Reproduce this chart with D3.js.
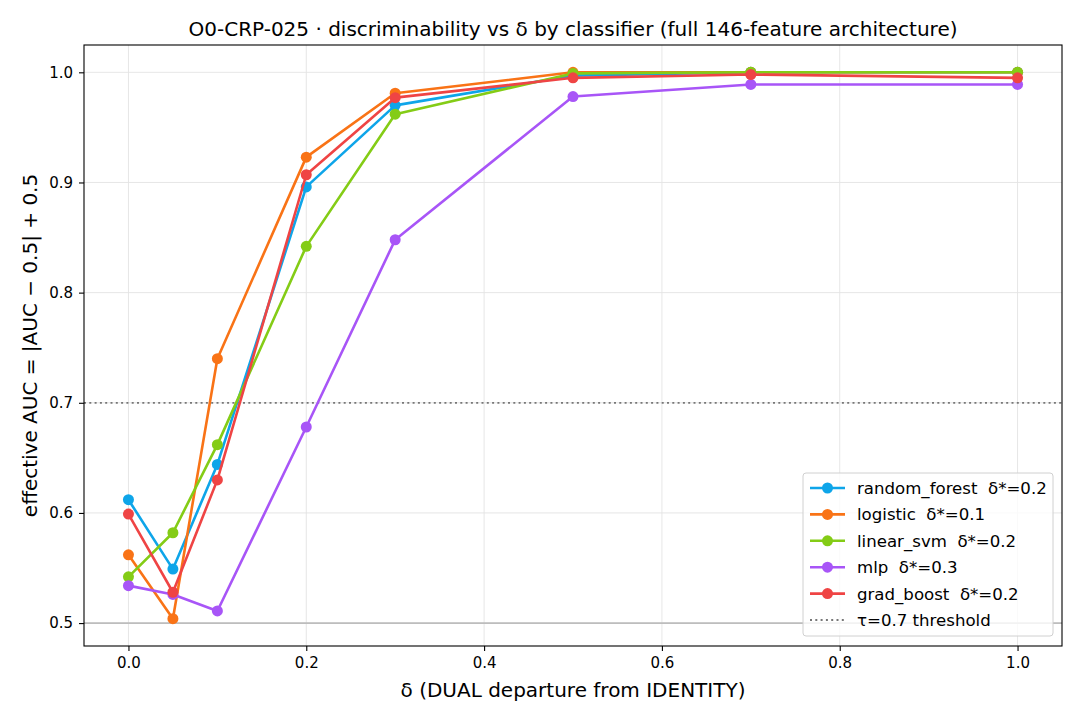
<!DOCTYPE html>
<html>
<head>
<meta charset="utf-8">
<script src="https://cdn.jsdelivr.net/npm/d3@7"></script>
<style>
  body { margin: 0; background: #fff; }
  text { font-family: "DejaVu Sans", sans-serif; }
</style>
</head>
<body>
<div id="chart"></div>
<script>
// deltas (x axis)
const deltas = [0, 0.05, 0.1, 0.2, 0.3, 0.5, 0.7, 1.0];

// effective AUC per classifier
const randomForest = [0.612, 0.549, 0.644, 0.896, 0.970, 0.997, 1.000, 1.000];
const logistic     = [0.562, 0.504, 0.740, 0.923, 0.981, 1.000, 1.000, 1.000];
const linearSvm    = [0.542, 0.582, 0.662, 0.842, 0.962, 0.999, 1.000, 1.000];
const mlp          = [0.534, 0.526, 0.511, 0.678, 0.848, 0.978, 0.989, 0.989];
const gradBoost    = [0.599, 0.528, 0.630, 0.907, 0.977, 0.995, 0.998, 0.995];

const seriesNames = ["random_forest  δ*=0.2", "logistic  δ*=0.1", "linear_svm  δ*=0.2", "mlp  δ*=0.3", "grad_boost  δ*=0.2"];
const seriesColors = ["#0ea5e9", "#f97316", "#84cc16", "#a855f7", "#ef4444"];
const seriesValues = [randomForest, logistic, linearSvm, mlp, gradBoost];

const xTicks = [0, 0.2, 0.4, 0.6, 0.8, 1.0];
const yTicks = [0.5, 0.6, 0.7, 0.8, 0.9, 1.0];
const threshold = 0.7;

const width = 1080, height = 720;
const margin = { left: 84, right: 18, top: 45, bottom: 74 };

const svg = d3.select("#chart").append("svg")
  .attr("width", width)
  .attr("height", height);

const x = d3.scaleLinear().domain([-0.05, 1.05]).range([margin.left, width - margin.right]);
const y = d3.scaleLinear().domain([0.4792, 1.0248]).range([height - margin.bottom, margin.top]);

// grid
const grid = svg.append("g");
grid.selectAll(".gx").data(xTicks).enter().append("line")
  .attr("x1", d => x(d)).attr("x2", d => x(d))
  .attr("y1", margin.top).attr("y2", height - margin.bottom)
  .attr("stroke", "#e3e3e3").attr("stroke-width", 0.9);
grid.selectAll(".gy").data(yTicks).enter().append("line")
  .attr("x1", margin.left).attr("x2", width - margin.right)
  .attr("y1", d => y(d)).attr("y2", d => y(d))
  .attr("stroke", "#e3e3e3").attr("stroke-width", 0.9);

// reference lines
svg.append("line")
  .attr("x1", margin.left).attr("x2", width - margin.right)
  .attr("y1", y(0.5)).attr("y2", y(0.5))
  .attr("stroke", "#bdbdbd").attr("stroke-width", 1.8);
svg.append("line")
  .attr("x1", margin.left).attr("x2", width - margin.right)
  .attr("y1", y(threshold)).attr("y2", y(threshold))
  .attr("stroke", "#777").attr("stroke-width", 1.8)
  .attr("stroke-dasharray", "2,3.3");

// series
const line = d3.line().x(d => x(d[0])).y(d => y(d[1]));
seriesValues.forEach((vals, i) => {
  const pts = deltas.map((d, j) => [d, vals[j]]);
  const g = svg.append("g");
  g.append("path")
    .attr("d", line(pts))
    .attr("fill", "none")
    .attr("stroke", seriesColors[i])
    .attr("stroke-width", 2.6)
    .attr("stroke-linejoin", "round");
  g.selectAll("circle").data(pts).enter().append("circle")
    .attr("cx", d => x(d[0])).attr("cy", d => y(d[1]))
    .attr("r", 5.5)
    .attr("fill", seriesColors[i]);
});

// frame
svg.append("rect")
  .attr("x", margin.left).attr("y", margin.top)
  .attr("width", width - margin.left - margin.right)
  .attr("height", height - margin.top - margin.bottom)
  .attr("fill", "none").attr("stroke", "#000").attr("stroke-width", 1.1);

// axes
const xAxis = svg.append("g")
  .attr("transform", `translate(0,${height - margin.bottom})`)
  .call(d3.axisBottom(x).tickValues(xTicks).tickFormat(d3.format(".1f")).tickSize(5).tickPadding(6));
const yAxis = svg.append("g")
  .attr("transform", `translate(${margin.left},0)`)
  .call(d3.axisLeft(y).tickValues(yTicks).tickFormat(d3.format(".1f")).tickSize(5).tickPadding(6));
[xAxis, yAxis].forEach(a => {
  a.select(".domain").remove();
  a.selectAll("text").attr("font-size", "15px").attr("fill", "#000")
    .style("font-family", "DejaVu Sans, sans-serif");
  a.selectAll("line").attr("stroke", "#000").attr("stroke-width", 1.1);
});

// titles
svg.append("text")
  .attr("x", (margin.left + width - margin.right) / 2).attr("y", 36)
  .attr("text-anchor", "middle").attr("font-size", "20px")
  .text("O0-CRP-025 · discriminability vs δ by classifier (full 146-feature architecture)");
svg.append("text")
  .attr("x", (margin.left + width - margin.right) / 2).attr("y", 697)
  .attr("text-anchor", "middle").attr("font-size", "20px")
  .text("δ (DUAL departure from IDENTITY)");
svg.append("text")
  .attr("transform", `translate(37,${(margin.top + height - margin.bottom) / 2}) rotate(-90)`)
  .attr("text-anchor", "middle").attr("font-size", "20px")
  .text("effective AUC = |AUC − 0.5| + 0.5");

// legend
const legend = svg.append("g").attr("transform", "translate(803,473)");
legend.append("rect")
  .attr("width", 250).attr("height", 163).attr("rx", 3)
  .attr("fill", "#fff").attr("fill-opacity", 0.8)
  .attr("stroke", "#d0d0d0");
const rowH = 26.4;
seriesNames.forEach((name, i) => {
  const ry = 15 + i * rowH;
  legend.append("line")
    .attr("x1", 7).attr("x2", 42).attr("y1", ry).attr("y2", ry)
    .attr("stroke", seriesColors[i]).attr("stroke-width", 2.6);
  legend.append("circle").attr("cx", 24.5).attr("cy", ry).attr("r", 5.5).attr("fill", seriesColors[i]);
  legend.append("text").attr("x", 54).attr("y", ry + 6).attr("font-size", "16.6px")
    .style("white-space", "pre").text(name);
});
const ty = 15 + 5 * rowH;
legend.append("line")
  .attr("x1", 7).attr("x2", 42).attr("y1", ty).attr("y2", ty)
  .attr("stroke", "#777").attr("stroke-width", 1.8).attr("stroke-dasharray", "2,3.3");
legend.append("text").attr("x", 54).attr("y", ty + 6).attr("font-size", "16.6px").text("τ=0.7 threshold");
</script>
</body>
</html>
